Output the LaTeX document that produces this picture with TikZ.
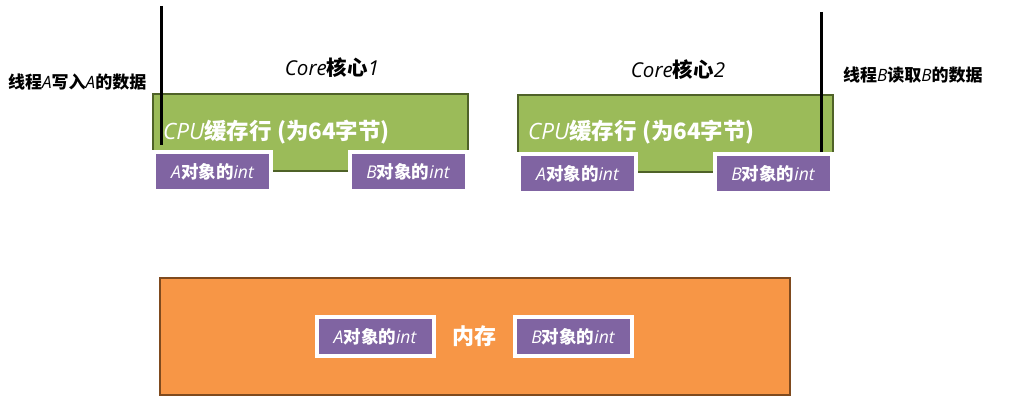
\documentclass[tikz,border=0pt]{standalone}
\usepackage{fontspec}
\setmainfont{Noto Sans CJK SC}
\newfontfamily\cjk{Noto Sans CJK SC}
\newfontfamily\hand{Open Sans}
\usetikzlibrary{shadows}
\definecolor{greenfill}{HTML}{9BBB59}
\definecolor{greenline}{HTML}{4F6228}
\definecolor{purplefill}{HTML}{8064A2}
\definecolor{orangefill}{HTML}{F79646}
\definecolor{orangeline}{HTML}{7F4A1E}
\newcommand{\hd}[1]{{\hand\mdseries\itshape #1}}
\tikzset{
  cachebox/.style={draw=greenline, fill=greenfill, line width=2pt, minimum width=315pt, minimum height=77pt, inner sep=0pt},
  membox/.style={draw=orangeline, fill=orangefill, line width=2pt, minimum width=630pt, minimum height=117pt, inner sep=0pt},
  objbox/.style={draw=white, fill=purplefill, line width=4pt, minimum width=117pt, minimum height=39pt, inner sep=0pt,
    text=white, font=\fontsize{17.5}{20}\selectfont\bfseries,
    drop shadow={opacity=0.35, shadow xshift=1pt, shadow yshift=2pt}},
  threadline/.style={line width=3pt, black},
  label/.style={font=\fontsize{17}{20}\selectfont\bfseries, text=black, inner sep=0pt},
  coretitle/.style={font=\fontsize{20.5}{24}\selectfont\bfseries, text=black, inner sep=0pt},
  linetext/.style={font=\fontsize{22.5}{26}\selectfont\bfseries, text=white, inner sep=0pt, anchor=west}
}
\begin{document}
\begin{tikzpicture}[x=1pt,y=-1pt]
\useasboundingbox (0,0) rectangle (1015,411);
\fill[white] (0,0) rectangle (1015,411);

% cores
\node[cachebox] (c1) at (310.5,133) {};
\node[cachebox] (c2) at (675.5,134) {};
\node[coretitle] (t1) at (332,68) {\hd{Core}核心\hd{1}};
\node[coretitle] (t2) at (678,70) {\hd{Core}核心\hd{2}};
\node[linetext] (l1) at (163,132) {\hd{CPU}缓存行 (为64字节)};
\node[linetext] (l2) at (528,132) {\hd{CPU}缓存行 (为64字节)};

% thread lines
\coordinate (a1) at (161,6);
\coordinate (a2) at (161,145);
\coordinate (b1) at (821,12);
\coordinate (b2) at (821,152);
\draw[threadline] (a1) -- (a2);
\draw[threadline] (b1) -- (b2);

\node[label, anchor=west] (ta) at (8,82) {线程\hd{A}写入\hd{A}的数据};
\node[label, anchor=west] (tb) at (843,75) {线程\hd{B}读取\hd{B}的数据};

% cache objects
\node[objbox] (o1a) at (212.5,171.5) {\hd{A}对象的\hd{int}};
\node[objbox] (o1b) at (408,171.5) {\hd{B}对象的\hd{int}};
\node[objbox] (o2a) at (577.5,174) {\hd{A}对象的\hd{int}};
\node[objbox] (o2b) at (773,174) {\hd{B}对象的\hd{int}};

% memory
\node[membox] (mem) at (475,336.5) {};
\node[objbox] (ma) at (375,336.5) {\hd{A}对象的\hd{int}};
\node[objbox] (mb) at (573,336.5) {\hd{B}对象的\hd{int}};
\node[font=\fontsize{22}{26}\selectfont\bfseries, text=white, inner sep=0pt] (mt) at (474,336) {内存};
\end{tikzpicture}
\end{document}
